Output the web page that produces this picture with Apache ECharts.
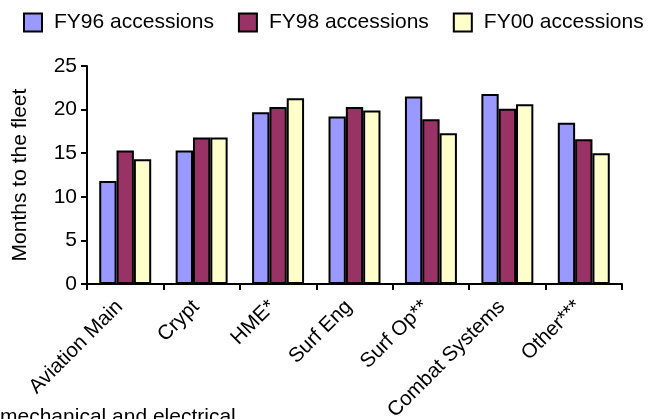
<!DOCTYPE html>
<html>
<head>
<meta charset="utf-8">
<script src="https://cdn.jsdelivr.net/npm/echarts@6/dist/echarts.min.js"></script>
<style>
html,body{margin:0;padding:0;background:#fff;}
#chart{width:649px;height:419px;}
</style>
</head>
<body>
<div id="chart"></div>
<script>
const categories = ['Aviation Main', 'Crypt', 'HME*', 'Surf Eng', 'Surf Op**', 'Combat Systems', 'Other***'];
const seriesNames = ['FY96 accessions', 'FY98 accessions', 'FY00 accessions'];
const fy96 = [11.8, 15.3, 19.7, 19.2, 21.5, 21.8, 18.5];
const fy98 = [15.3, 16.8, 20.3, 20.3, 18.9, 20.1, 16.6];
const fy00 = [14.3, 16.8, 21.3, 19.9, 17.3, 20.6, 15.0];
const yTicks = [0, 5, 10, 15, 20, 25];
const footnote = 'mechanical and electrical';

const colors = ['#9999FF', '#993366', '#FFFFCC'];
const FONT = 'Arial, "Liberation Sans", Helvetica, sans-serif';

const chart = echarts.init(document.getElementById('chart'), null, {renderer: 'canvas'});
const mk = (name, data, color) => ({
  name: name,
  type: 'bar',
  data: data,
  barGap: '0%',
  barCategoryGap: '32%',
  itemStyle: {color: color, borderColor: '#000', borderWidth: 2},
  emphasis: {disabled: true}
});

chart.setOption({
  animation: false,
  backgroundColor: '#fff',
  textStyle: {fontFamily: FONT},
  legend: {
    left: 23, top: 12, padding: 0,
    itemWidth: 18, itemHeight: 18, itemGap: 24,
    icon: 'rect',
    textStyle: {fontSize: 21, color: '#000', fontFamily: FONT, padding: [0, 0, 0, 7]},
    data: seriesNames
  },
  grid: {left: 87, right: 27, top: 66, bottom: 135, containLabel: false, outerBoundsMode: 'none'},
  xAxis: {
    type: 'category',
    data: categories,
    axisLine: {lineStyle: {color: '#000', width: 2}},
    axisTick: {show: true, length: 6, lineStyle: {color: '#000', width: 2}, alignWithLabel: false},
    axisLabel: {rotate: 45, fontSize: 20.5, color: '#000', margin: 14, interval: 0, fontFamily: FONT, padding: [0, 8, 0, 0]}
  },
  yAxis: {
    type: 'value',
    min: yTicks[0], max: yTicks[yTicks.length - 1], interval: 5,
    name: 'Months to the fleet',
    nameLocation: 'middle',
    nameGap: 56,
    nameTextStyle: {fontSize: 21, color: '#000', fontFamily: FONT},
    axisLine: {show: true, lineStyle: {color: '#000', width: 2}},
    axisTick: {show: true, length: 6, lineStyle: {color: '#000', width: 2}},
    axisLabel: {fontSize: 21, color: '#000', margin: 10, fontFamily: FONT},
    splitLine: {show: false}
  },
  graphic: [{
    type: 'text', left: 0, top: 407,
    style: {text: footnote, font: '21px ' + FONT, fill: '#000'}
  }],
  series: [mk(seriesNames[0], fy96, colors[0]), mk(seriesNames[1], fy98, colors[1]), mk(seriesNames[2], fy00, colors[2])]
});
</script>
</body>
</html>
